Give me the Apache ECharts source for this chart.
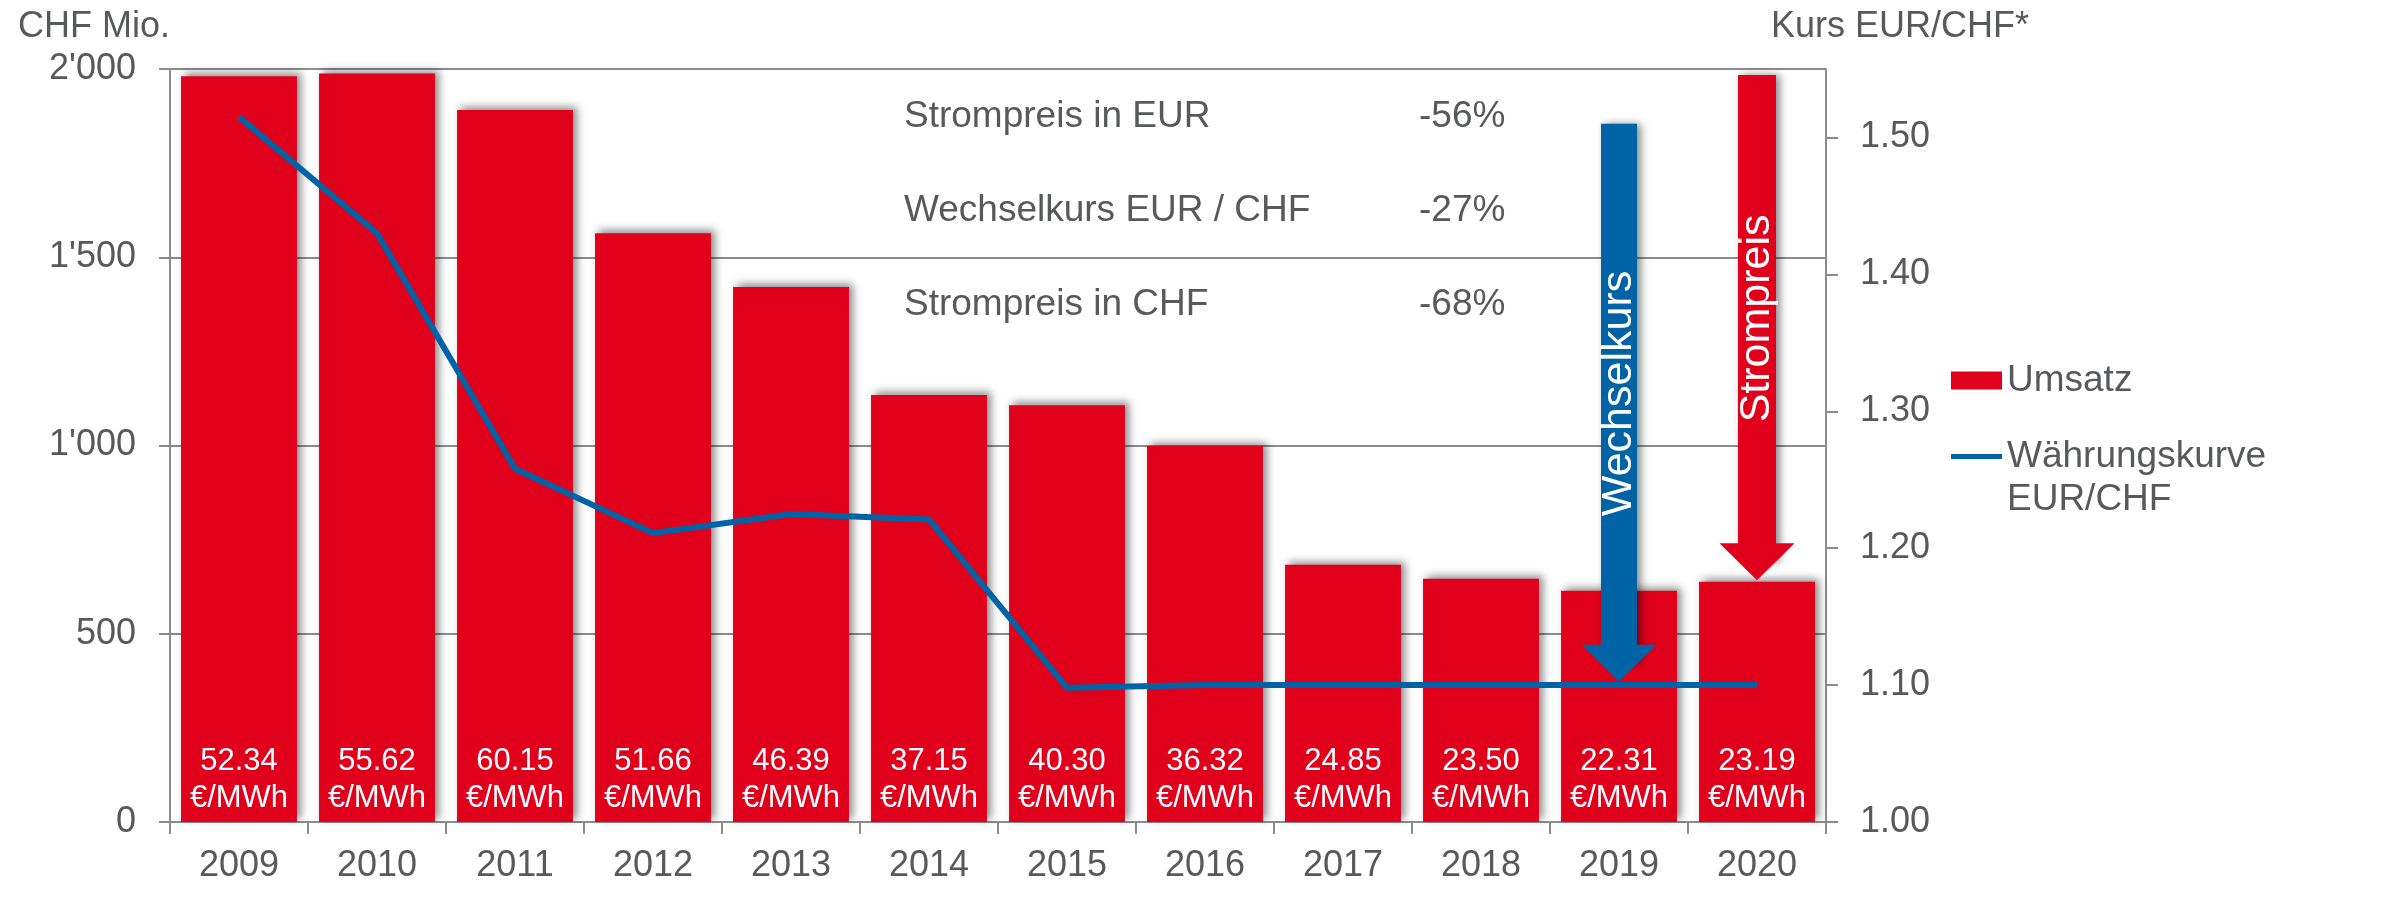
<!DOCTYPE html>
<html>
<head>
<meta charset="utf-8">
<script src="https://cdn.jsdelivr.net/npm/echarts@6/dist/echarts.min.js"></script>
<style>
  html, body { margin: 0; padding: 0; background: #fff; }
  #chart { width: 2387px; height: 903px; }
</style>
</head>
<body>
<div id="chart"></div>
<script>
// Jahre und Werte
var years = ['2009', '2010', '2011', '2012', '2013', '2014', '2015', '2016', '2017', '2018', '2019', '2020']
// Umsatz in CHF Mio.
var umsatz = [1981, 1988, 1891, 1564, 1421, 1134, 1107, 999, 683, 646, 614, 638]
// Kurs EUR/CHF
var kurs = [1.515, 1.430, 1.258, 1.211, 1.225, 1.221, 1.098, 1.100, 1.100, 1.100, 1.100, 1.100]
// Strompreis je Jahr (Beschriftung in den Balken)
var strompreis = ['52.34', '55.62', '60.15', '51.66', '46.39', '37.15', '40.30', '36.32', '24.85', '23.50', '22.31', '23.19']
// Achsenticks
var umsatzTicks = [0, 500, 1000, 1500, 2000]
var kursTicks = [1.0, 1.1, 1.2, 1.3, 1.4, 1.5]
// Tabelle oben
var tabelle = [
  ['Strompreis in EUR', '-56%'],
  ['Wechselkurs EUR / CHF', '-27%'],
  ['Strompreis in CHF', '-68%']
]
// Pfeile: [Jahr, Spitze, Ende]
var pfeilWechselkurs = ['2019', 1.116, 1.51]
var pfeilStrompreis = ['2020', 691, 1984]

var FONT = "'Liberation Sans', Arial, sans-serif"
var GRAU = '#58595b'
var LINIE = '#8c8c8c'
var ROT = '#e0001b'
var BLAU = '#0063a6'
var KURVE = 'Währungskurve\nEUR/CHF'

function tausender (v) {
  return String(v).replace(/\B(?=(\d{3})+(?!\d))/g, "'")
}

var chart = echarts.init(document.getElementById('chart'))

var tabelleGraphic = []
tabelle.forEach(function (row, i) {
  var y = 117 + i * 94
  tabelleGraphic.push({
    type: 'text', x: 904, y: y,
    style: { text: row[0], font: '37px ' + FONT, fill: GRAU, verticalAlign: 'middle' }
  })
  tabelleGraphic.push({
    type: 'text', x: 1419, y: y,
    style: { text: row[1], font: '37px ' + FONT, fill: GRAU, verticalAlign: 'middle' }
  })
})

var option = {
  animation: false,
  backgroundColor: '#fff',
  textStyle: { fontFamily: FONT },
  title: [
    { text: 'CHF Mio.', left: 18, top: 9, padding: 0,
      textStyle: { fontSize: 36, fontWeight: 'normal', color: GRAU, fontFamily: FONT } },
    { text: 'Kurs EUR/CHF*', left: 1771, top: 9, padding: 0,
      textStyle: { fontSize: 36, fontWeight: 'normal', color: GRAU, fontFamily: FONT } }
  ],
  legend: [
    {
      data: [{ name: 'Umsatz', icon: 'rect' }],
      left: 1951, top: 362, orient: 'vertical', padding: 0,
      itemWidth: 51, itemHeight: 18, itemGap: 0,
      textStyle: { fontSize: 37, color: GRAU, fontFamily: FONT }
    },
    {
      data: [{ name: KURVE, icon: 'rect' }],
      left: 1951, top: 392, orient: 'vertical', padding: 0,
      itemWidth: 51, itemHeight: 5, itemGap: 0,
      // leere erste Zeile, damit die erste Textzeile auf Höhe der Linie steht
      formatter: function (name) { return ' \n' + name },
      textStyle: { fontSize: 37, lineHeight: 43, color: GRAU, fontFamily: FONT }
    }
  ],
  grid: { left: 170, right: 561, top: 69, bottom: 81, outerBoundsMode: 'none' },
  xAxis: {
    type: 'category',
    data: years,
    boundaryGap: true,
    axisLine: { show: true, lineStyle: { color: LINIE, width: 2 } },
    axisTick: { show: true, length: 12, lineStyle: { color: LINIE, width: 2 } },
    axisLabel: { color: GRAU, fontSize: 36, fontFamily: FONT, margin: 26 }
  },
  yAxis: [
    {
      type: 'value', min: 0, max: 2000, interval: 500,
      axisLine: { show: true, lineStyle: { color: LINIE, width: 2 } },
      axisTick: { show: true, length: 11, lineStyle: { color: LINIE, width: 2 } },
      axisLabel: { color: GRAU, fontSize: 36, fontFamily: FONT, margin: 34,
        customValues: umsatzTicks, formatter: tausender },
      splitLine: { show: true, lineStyle: { color: LINIE, width: 2 } }
    },
    {
      type: 'value', min: 1.0, max: 1.55, interval: 0.1, position: 'right',
      axisLine: { show: true, lineStyle: { color: LINIE, width: 2 } },
      axisTick: { show: true, length: 12, customValues: kursTicks, lineStyle: { color: LINIE, width: 2 } },
      axisLabel: { color: GRAU, fontSize: 36, fontFamily: FONT, margin: 34,
        customValues: kursTicks, formatter: function (v) { return v.toFixed(2) } },
      splitLine: { show: false }
    }
  ],
  series: [
    {
      name: 'Umsatz',
      type: 'bar',
      data: umsatz,
      barWidth: '84%',
      itemStyle: {
        color: ROT,
        shadowBlur: 8, shadowColor: 'rgba(0,0,0,0.45)', shadowOffsetX: 4, shadowOffsetY: -3
      },
      label: {
        show: true, position: 'insideBottom', distance: 5,
        color: '#fff', fontSize: 31, lineHeight: 37, fontFamily: FONT,
        formatter: function (p) { return strompreis[p.dataIndex] + '\n€/MWh' }
      },
      markLine: {
        silent: true, animation: false,
        symbol: ['triangle', 'none'], symbolSize: [75, 37],
        itemStyle: { color: ROT },
        lineStyle: { color: ROT, width: 38, type: 'solid',
          shadowBlur: 8, shadowColor: 'rgba(0,0,0,0.45)', shadowOffsetX: 4, shadowOffsetY: 0 },
        label: { show: true, position: 'middle', distance: 0, verticalAlign: 'middle',
          formatter: 'Strompreis', color: '#fff', fontSize: 43, fontFamily: FONT },
        data: [[{ coord: [pfeilStrompreis[0], pfeilStrompreis[1]] }, { coord: [pfeilStrompreis[0], pfeilStrompreis[2]] }]]
      }
    },
    {
      name: KURVE,
      type: 'line',
      yAxisIndex: 1,
      data: kurs,
      symbol: 'none',
      z: 4,
      color: BLAU,
      lineStyle: { color: BLAU, width: 6 },
      markLine: {
        silent: true, animation: false,
        symbol: ['triangle', 'none'], symbolSize: [75, 37],
        itemStyle: { color: BLAU },
        lineStyle: { color: BLAU, width: 36, type: 'solid',
          shadowBlur: 8, shadowColor: 'rgba(0,0,0,0.45)', shadowOffsetX: 4, shadowOffsetY: 0 },
        label: { show: true, position: 'middle', distance: 0, verticalAlign: 'middle',
          formatter: 'Wechselkurs', color: '#fff', fontSize: 43, fontFamily: FONT },
        data: [[{ coord: [pfeilWechselkurs[0], pfeilWechselkurs[1]] }, { coord: [pfeilWechselkurs[0], pfeilWechselkurs[2]] }]]
      }
    }
  ],
  graphic: tabelleGraphic
}

chart.setOption(option)
</script>
</body>
</html>
